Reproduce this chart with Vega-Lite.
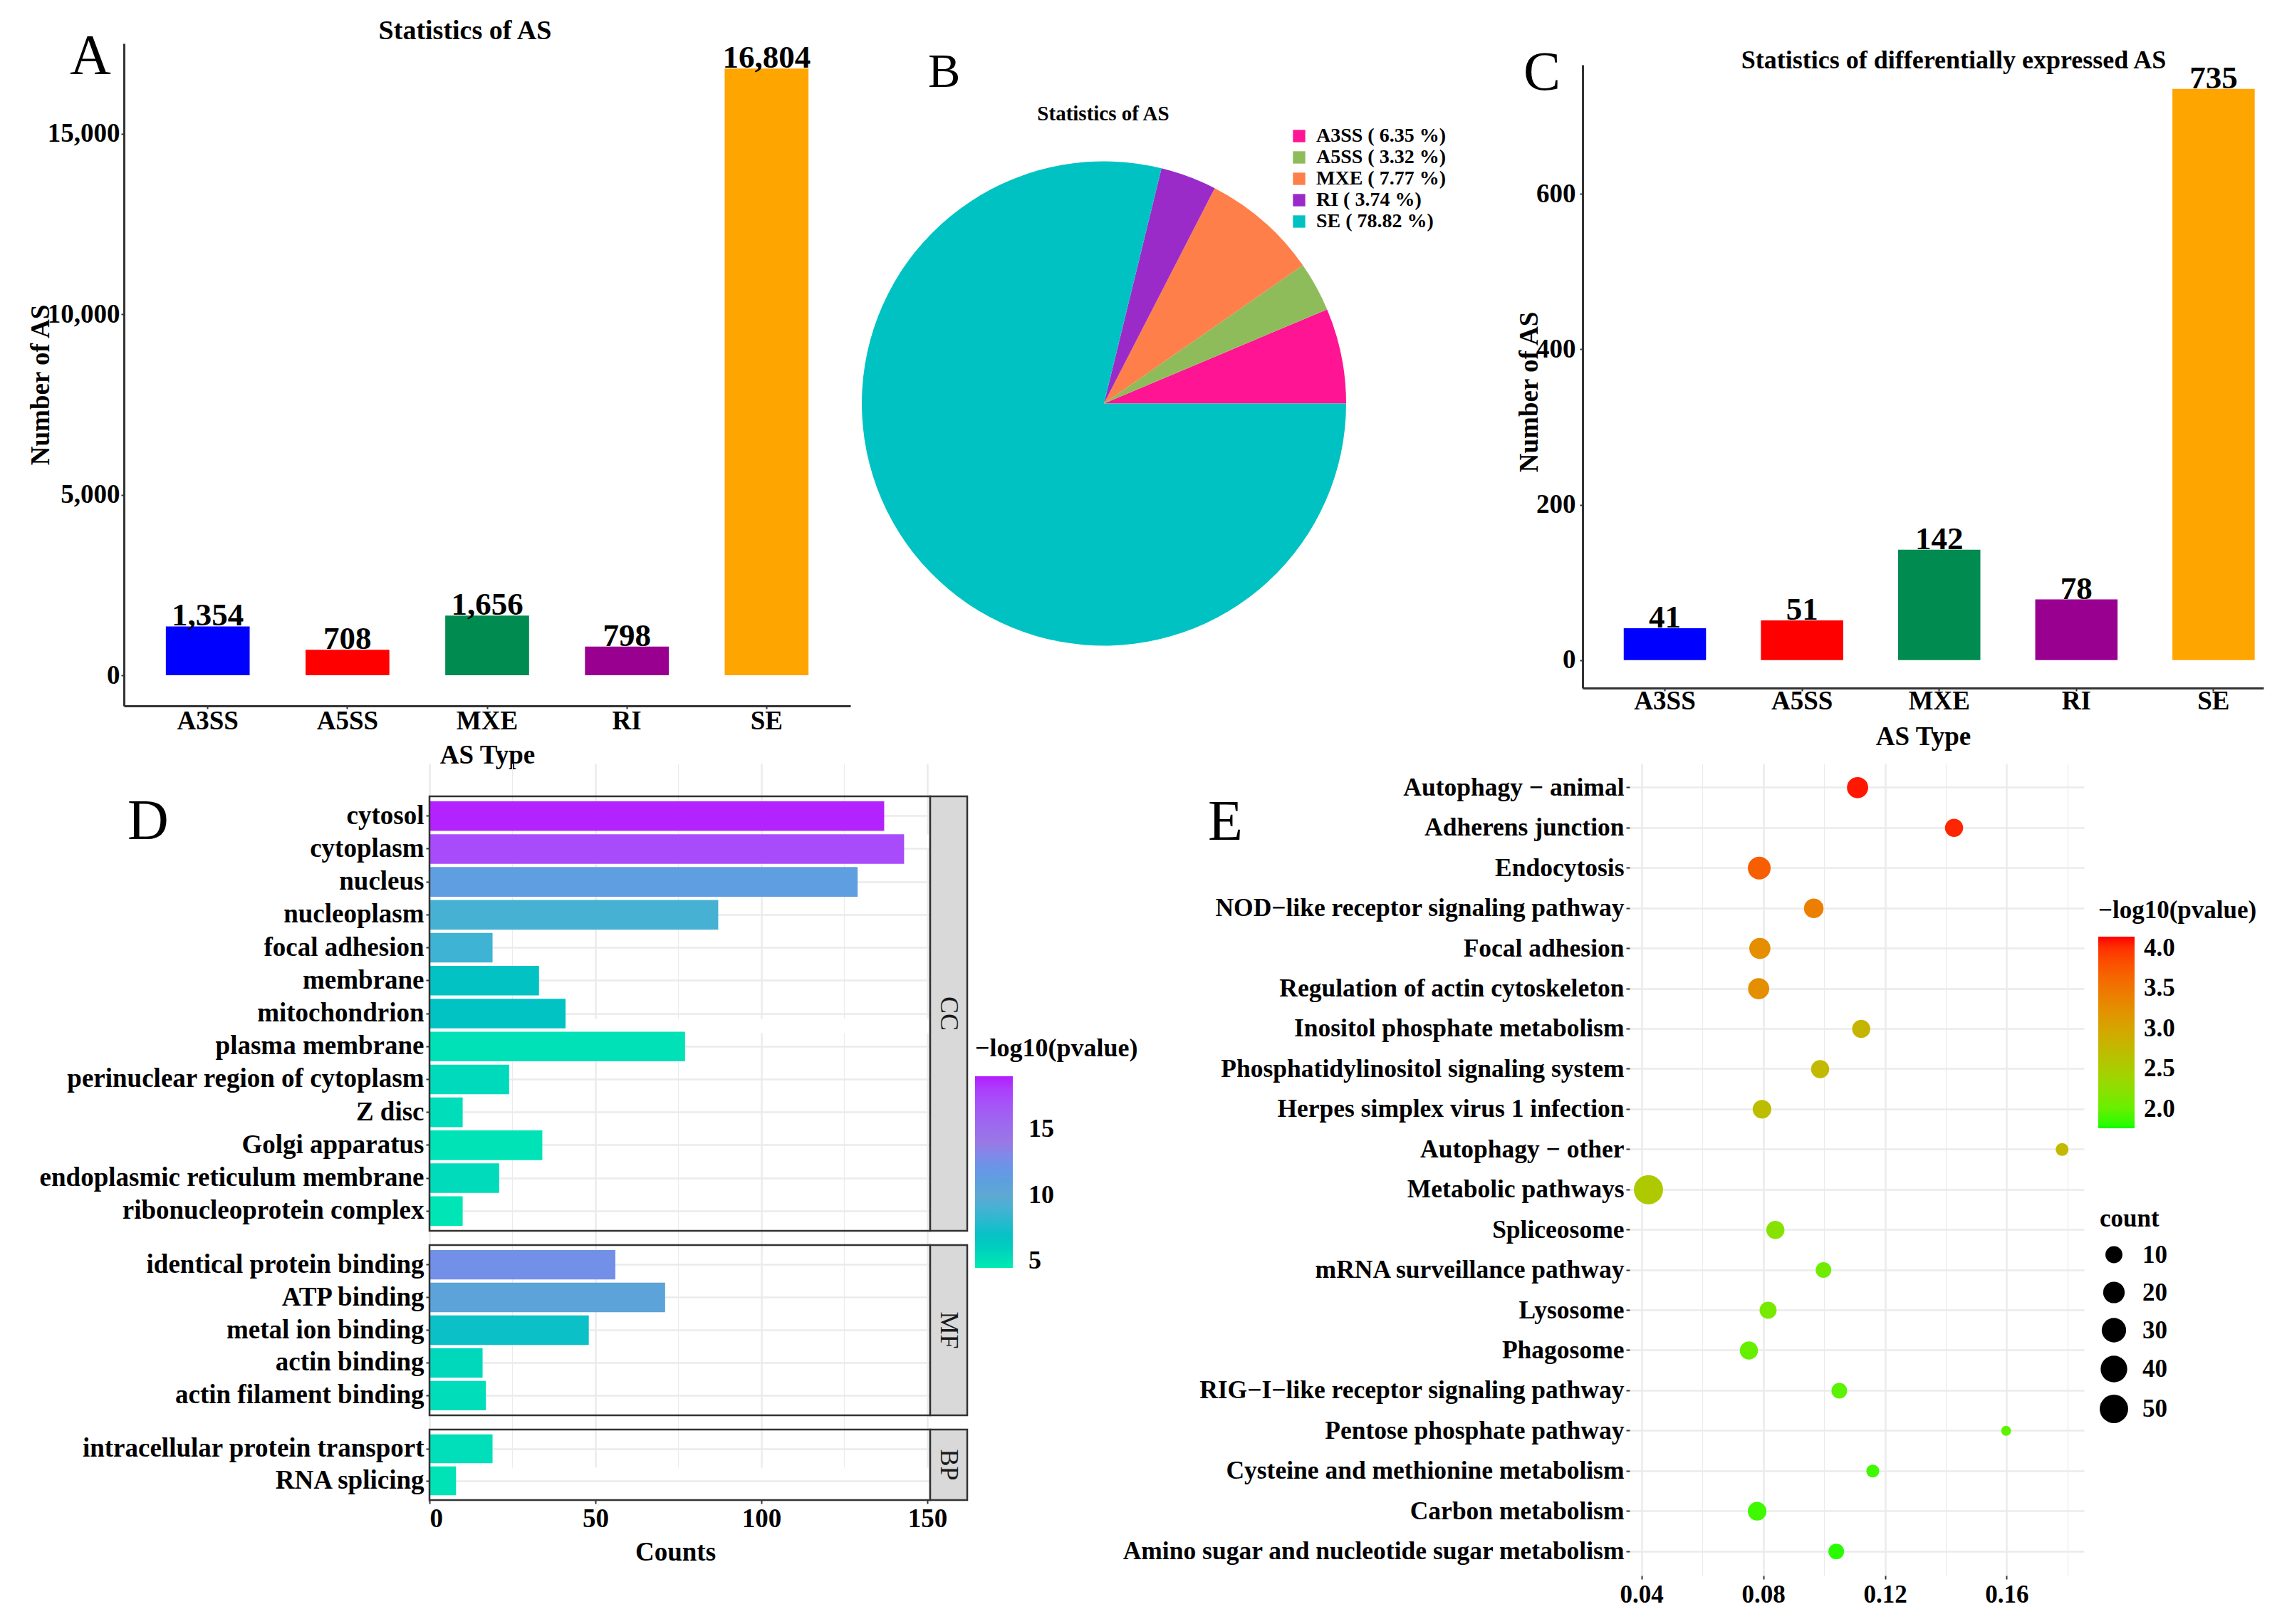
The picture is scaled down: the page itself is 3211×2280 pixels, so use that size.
{
  "$schema": "https://vega.github.io/schema/vega-lite/v6.json",
  "background": "white",
  "padding": {"left": 38, "top": 25, "right": 0, "bottom": 0},
  "columns": 5,
  "bounds": "flush",
  "align": "each",
  "spacing": {"row": 0, "column": 0},
  "resolve": {"scale": {"color": "independent", "size": "independent"}},
  "datasets": {
    "as": [
      {"type": "A3SS", "total": 1354, "de": 41, "share": "A3SS ( 6.35 %)"},
      {"type": "A5SS", "total": 708, "de": 51, "share": "A5SS ( 3.32 %)"},
      {"type": "MXE", "total": 1656, "de": 142, "share": "MXE ( 7.77 %)"},
      {"type": "RI", "total": 798, "de": 78, "share": "RI ( 3.74 %)"},
      {"type": "SE", "total": 16804, "de": 735, "share": "SE ( 78.82 %)"}
    ],
    "go": [
      {"cat": "CC", "term": "cytosol", "count": 137, "logp": 18.9},
      {"cat": "CC", "term": "cytoplasm", "count": 143, "logp": 17.4},
      {"cat": "CC", "term": "nucleus", "count": 129, "logp": 11.2},
      {"cat": "CC", "term": "nucleoplasm", "count": 87, "logp": 9.0},
      {"cat": "CC", "term": "focal adhesion", "count": 19, "logp": 8.7},
      {"cat": "CC", "term": "membrane", "count": 33, "logp": 6.8},
      {"cat": "CC", "term": "mitochondrion", "count": 41, "logp": 6.7},
      {"cat": "CC", "term": "plasma membrane", "count": 77, "logp": 5.0},
      {"cat": "CC", "term": "perinuclear region of cytoplasm", "count": 24, "logp": 5.4},
      {"cat": "CC", "term": "Z disc", "count": 10, "logp": 5.2},
      {"cat": "CC", "term": "Golgi apparatus", "count": 34, "logp": 4.9},
      {"cat": "CC", "term": "endoplasmic reticulum membrane", "count": 21, "logp": 5.3},
      {"cat": "CC", "term": "ribonucleoprotein complex", "count": 10, "logp": 4.8},
      {"cat": "MF", "term": "identical protein binding", "count": 56, "logp": 12.5},
      {"cat": "MF", "term": "ATP binding", "count": 71, "logp": 10.6},
      {"cat": "MF", "term": "metal ion binding", "count": 48, "logp": 7.1},
      {"cat": "MF", "term": "actin binding", "count": 16, "logp": 5.5},
      {"cat": "MF", "term": "actin filament binding", "count": 17, "logp": 5.2},
      {"cat": "BP", "term": "intracellular protein transport", "count": 19, "logp": 5.1},
      {"cat": "BP", "term": "RNA splicing", "count": 8, "logp": 4.9}
    ],
    "panels": [
      {"cat": "CC", "first": "cytosol", "last": "ribonucleoprotein complex", "mid": "mitochondrion"},
      {"cat": "MF", "first": "identical protein binding", "last": "actin filament binding", "mid": "metal ion binding"},
      {"cat": "BP", "first": "intracellular protein transport", "last": "RNA splicing", "mid": "intracellular protein transport"}
    ],
    "kegg": [
      {"pathway": "Autophagy − animal", "ratio": 0.1110, "logp": 4.10, "count": 19},
      {"pathway": "Adherens junction", "ratio": 0.1427, "logp": 4.05, "count": 12},
      {"pathway": "Endocytosis", "ratio": 0.0787, "logp": 3.70, "count": 24},
      {"pathway": "NOD−like receptor signaling pathway", "ratio": 0.0966, "logp": 3.40, "count": 15},
      {"pathway": "Focal adhesion", "ratio": 0.0789, "logp": 3.25, "count": 19},
      {"pathway": "Regulation of actin cytoskeleton", "ratio": 0.0785, "logp": 3.25, "count": 19},
      {"pathway": "Inositol phosphate metabolism", "ratio": 0.1122, "logp": 2.80, "count": 12},
      {"pathway": "Phosphatidylinositol signaling system", "ratio": 0.0987, "logp": 2.75, "count": 12},
      {"pathway": "Herpes simplex virus 1 infection", "ratio": 0.0796, "logp": 2.70, "count": 13},
      {"pathway": "Autophagy − other", "ratio": 0.1782, "logp": 2.75, "count": 5},
      {"pathway": "Metabolic pathways", "ratio": 0.0423, "logp": 2.55, "count": 55},
      {"pathway": "Spliceosome", "ratio": 0.0840, "logp": 2.20, "count": 12},
      {"pathway": "mRNA surveillance pathway", "ratio": 0.0998, "logp": 2.05, "count": 8},
      {"pathway": "Lysosome", "ratio": 0.0816, "logp": 2.10, "count": 10},
      {"pathway": "Phagosome", "ratio": 0.0753, "logp": 2.00, "count": 12},
      {"pathway": "RIG−I−like receptor signaling pathway", "ratio": 0.1050, "logp": 1.95, "count": 8},
      {"pathway": "Pentose phosphate pathway", "ratio": 0.1598, "logp": 1.95, "count": 3},
      {"pathway": "Cysteine and methionine metabolism", "ratio": 0.1160, "logp": 1.85, "count": 5},
      {"pathway": "Carbon metabolism", "ratio": 0.0780, "logp": 1.85, "count": 13},
      {"pathway": "Amino sugar and nucleotide sugar metabolism", "ratio": 0.1040, "logp": 1.80, "count": 8}
    ],
    "kpanel": [
      {"first": "Autophagy − animal", "last": "Amino sugar and nucleotide sugar metabolism"}
    ]
  },
  "concat": [
    {
      "width": 1020,
      "height": 930,
      "data": {"name": "as"},
      "title": {"text": "Statistics of AS", "fontSize": 38, "anchor": "middle", "frame": "group", "offset": 0, "dx": -31, "dy": 4},
      "encoding": {
        "x": {"field": "type", "type": "nominal", "sort": null,
          "scale": {"paddingInner": 0.4, "paddingOuter": 0.3},
          "axis": {"title": "AS Type", "labelAngle": 0, "tickSize": 4, "tickWidth": 2, "labelPadding": -1, "titlePadding": 12, "domainWidth": 3, "domainColor": "#333333"}},
        "y": {"field": "total", "type": "quantitative",
          "scale": {"domain": [-846, 17500], "nice": false, "zero": false},
          "axis": {"title": "Number of AS", "values": [0, 5000, 10000, 15000], "format": ",d", "tickSize": 4, "tickWidth": 2, "labelPadding": 2, "domainWidth": 3, "domainColor": "#333333", "titleX": -106, "titleY": 479, "titleBaseline": "alphabetic"}}
      },
      "layer": [
        {
          "mark": {"type": "bar"},
          "encoding": {
            "y2": {"datum": 0},
            "color": {"field": "type", "type": "nominal",
              "scale": {"domain": ["A3SS", "A5SS", "MXE", "RI", "SE"], "range": ["#0000FF", "#FF0000", "#008B50", "#990090", "#FFA500"]},
              "legend": null}
          }
        },
        {
          "mark": {"type": "text", "baseline": "alphabetic", "dy": -1, "fontSize": 45, "fontWeight": "bold", "color": "#000000"},
          "encoding": {"text": {"field": "total", "type": "quantitative", "format": ","}}
        }
      ]
    },
    {
      "width": 384,
      "height": 1011,
      "data": {"name": "as"},
      "mark": {"type": "arc", "radius": 340},
      "encoding": {
        "theta": {"field": "total", "type": "quantitative", "stack": true, "scale": {"range": [1.5708, -4.7124]}},
        "order": {"field": "type", "sort": "ascending"},
        "color": {"field": "share", "type": "nominal", "sort": null,
          "scale": {"domain": ["A3SS ( 6.35 %)", "A5SS ( 3.32 %)", "MXE ( 7.77 %)", "RI ( 3.74 %)", "SE ( 78.82 %)"], "range": ["#FF1493", "#8FBC5A", "#FF7F4A", "#9A2BC8", "#00C2C2"]},
          "legend": {"title": null, "orient": "none", "legendX": 452, "legendY": 116, "symbolType": "square", "symbolSize": 300, "symbolStrokeWidth": 0, "labelFontSize": 28, "rowPadding": 2, "labelOffset": 10}}
      }
    },
    {
      "width": 480, "height": 10, "data": {"values": []}, "mark": "point", "encoding": {},
      "title": {"text": "A", "fontSize": 80, "fontWeight": "normal", "anchor": "start", "frame": "group", "offset": 0, "dx": -1644, "dy": 60}
    },
    {
      "width": 956,
      "height": 905,
      "data": {"name": "as"},
      "title": {"text": "Statistics of differentially expressed AS", "fontSize": 36, "anchor": "middle", "frame": "group", "offset": 0, "dx": 43, "dy": 43},
      "encoding": {
        "x": {"field": "type", "type": "nominal", "sort": null,
          "scale": {"paddingInner": 0.4, "paddingOuter": 0.182, "align": 0.824},
          "axis": {"title": "AS Type", "labelAngle": 0, "tickSize": 4, "tickWidth": 2, "labelPadding": -4, "titlePadding": 14, "domainWidth": 3, "domainColor": "#333333"}},
        "y": {"field": "de", "type": "quantitative",
          "scale": {"domain": [-36, 766], "nice": false, "zero": false, "range": [905, 30]},
          "axis": {"title": "Number of AS", "values": [0, 200, 400, 600], "format": "d", "tickSize": 4, "tickWidth": 2, "labelPadding": 6, "domainWidth": 3, "domainColor": "#333333", "titleX": -64, "titleY": 489, "titleBaseline": "alphabetic"}}
      },
      "layer": [
        {
          "mark": {"type": "bar"},
          "encoding": {
            "y2": {"datum": 0},
            "color": {"field": "type", "type": "nominal",
              "scale": {"domain": ["A3SS", "A5SS", "MXE", "RI", "SE"], "range": ["#0000FF", "#FF0000", "#008B50", "#990090", "#FFA500"]},
              "legend": null}
          }
        },
        {
          "mark": {"type": "text", "baseline": "alphabetic", "dy": -1, "fontSize": 45, "fontWeight": "bold", "color": "#000000"},
          "encoding": {"text": {"field": "de", "type": "quantitative"}}
        }
      ]
    },
    {
      "width": 1, "height": 10, "data": {"values": []}, "mark": "point", "encoding": {},
      "title": {"text": "B", "fontSize": 68, "fontWeight": "normal", "anchor": "start", "frame": "group", "offset": 0, "dx": -1875, "dy": 75}
    },
    {
      "width": 1184,
      "height": 1034,
      "resolve": {"scale": {"x": "independent", "y": "independent"}, "axis": {"x": "independent", "y": "independent"}},
      "layer": [
        {
          "layer": [
            {
              "data": {"name": "go"},
              "transform": [{"filter": "datum.cat === 'CC'"}],
              "mark": {"type": "bar"},
              "encoding": {
                "y": {"field": "term", "type": "nominal",
                  "scale": {"domain": ["cytosol", "cytoplasm", "nucleus", "nucleoplasm", "focal adhesion", "membrane", "mitochondrion", "plasma membrane", "perinuclear region of cytoplasm", "Z disc", "Golgi apparatus", "endoplasmic reticulum membrane", "ribonucleoprotein complex"], "range": [46, 656], "paddingInner": 0.1, "paddingOuter": 0.15},
                  "axis": {"title": null, "orient": "left", "offset": -429, "labelFontSize": 37, "tickSize": 5, "tickWidth": 2, "tickColor": "#333333", "labelPadding": 3, "domain": false, "grid": true, "gridColor": "#EBEBEB", "gridWidth": 2.5}},
                "x": {"field": "count", "type": "quantitative",
                  "scale": {"domain": [0, 150.86], "range": [429, 1132], "nice": false, "zero": false},
                  "axis": {"title": null, "orient": "bottom", "values": [0, 25, 50, 75, 100, 125, 150], "labels": false, "ticks": false, "domain": false, "grid": true, "gridColor": "#EBEBEB", "gridWidth": {"condition": {"test": "datum.value % 50 === 0", "value": 2.5}, "value": 1.2}}},
                "color": {"field": "logp", "type": "quantitative",
                  "scale": {"domain": [4.46, 6.5, 10, 14, 19.0], "range": ["#00EBB0", "#00C4C0", "#5FA8D3", "#9A78E4", "#B31EFF"]},
                  "legend": {"title": "−log10(pvalue)", "orient": "none", "legendX": 1195, "legendY": 383, "direction": "vertical", "gradientLength": 269, "gradientThickness": 53, "gradientStrokeWidth": 0, "values": [5, 10, 15], "titleFontSize": 36, "labelFontSize": 36, "titlePadding": 20, "labelOffset": 22}}
              }
            },
            {
              "data": {"name": "panels"},
              "transform": [{"filter": "datum.cat === 'CC'"}],
              "mark": {"type": "rect", "fillOpacity": 0, "stroke": "#333333", "strokeWidth": 2.5},
              "encoding": {
                "x": {"datum": 0}, "x2": {"datum": 150.86},
                "y": {"field": "first", "type": "nominal", "bandPosition": -0.1667},
                "y2": {"field": "last", "bandPosition": 1.1667}
              }
            },
            {
              "data": {"name": "panels"},
              "transform": [{"filter": "datum.cat === 'CC'"}],
              "mark": {"type": "rect", "fill": "#D9D9D9", "stroke": "#333333", "strokeWidth": 2.5},
              "encoding": {
                "x": {"datum": 150.86}, "x2": {"datum": 162.02},
                "y": {"field": "first", "type": "nominal", "bandPosition": -0.1667},
                "y2": {"field": "last", "bandPosition": 1.1667}
              }
            },
            {
              "data": {"name": "panels"},
              "transform": [{"filter": "datum.cat === 'CC'"}],
              "mark": {"type": "text", "angle": 90, "fontSize": 36, "color": "#1A1A1A", "font": "Liberation Serif"},
              "encoding": {
                "x": {"datum": 156.44},
                "y": {"field": "mid", "type": "nominal", "bandPosition": 0.5},
                "text": {"field": "cat", "type": "nominal"}
              }
            }
          ]
        },
        {
          "layer": [
            {
              "data": {"name": "go"},
              "transform": [{"filter": "datum.cat === 'MF'"}],
              "mark": {"type": "bar"},
              "encoding": {
                "y": {"field": "term", "type": "nominal",
                  "scale": {"domain": ["identical protein binding", "ATP binding", "metal ion binding", "actin binding", "actin filament binding"], "range": [676, 915], "paddingInner": 0.1, "paddingOuter": 0.15},
                  "axis": {"title": null, "orient": "left", "offset": -429, "labelFontSize": 37, "tickSize": 5, "tickWidth": 2, "tickColor": "#333333", "labelPadding": 3, "domain": false, "grid": true, "gridColor": "#EBEBEB", "gridWidth": 2.5}},
                "x": {"field": "count", "type": "quantitative",
                  "scale": {"domain": [0, 150.86], "range": [429, 1132], "nice": false, "zero": false},
                  "axis": {"title": null, "orient": "bottom", "values": [0, 25, 50, 75, 100, 125, 150], "labels": false, "ticks": false, "domain": false, "grid": true, "gridColor": "#EBEBEB", "gridWidth": {"condition": {"test": "datum.value % 50 === 0", "value": 2.5}, "value": 1.2}}},
                "color": {"field": "logp", "type": "quantitative",
                  "scale": {"domain": [4.46, 6.5, 10, 14, 19.0], "range": ["#00EBB0", "#00C4C0", "#5FA8D3", "#9A78E4", "#B31EFF"]},
                  "legend": {"title": "−log10(pvalue)", "orient": "none", "legendX": 1195, "legendY": 383, "direction": "vertical", "gradientLength": 269, "gradientThickness": 53, "gradientStrokeWidth": 0, "values": [5, 10, 15], "titleFontSize": 36, "labelFontSize": 36, "titlePadding": 20, "labelOffset": 22}}
              }
            },
            {
              "data": {"name": "panels"},
              "transform": [{"filter": "datum.cat === 'MF'"}],
              "mark": {"type": "rect", "fillOpacity": 0, "stroke": "#333333", "strokeWidth": 2.5},
              "encoding": {
                "x": {"datum": 0}, "x2": {"datum": 150.86},
                "y": {"field": "first", "type": "nominal", "bandPosition": -0.1667},
                "y2": {"field": "last", "bandPosition": 1.1667}
              }
            },
            {
              "data": {"name": "panels"},
              "transform": [{"filter": "datum.cat === 'MF'"}],
              "mark": {"type": "rect", "fill": "#D9D9D9", "stroke": "#333333", "strokeWidth": 2.5},
              "encoding": {
                "x": {"datum": 150.86}, "x2": {"datum": 162.02},
                "y": {"field": "first", "type": "nominal", "bandPosition": -0.1667},
                "y2": {"field": "last", "bandPosition": 1.1667}
              }
            },
            {
              "data": {"name": "panels"},
              "transform": [{"filter": "datum.cat === 'MF'"}],
              "mark": {"type": "text", "angle": 90, "fontSize": 36, "color": "#1A1A1A", "font": "Liberation Serif"},
              "encoding": {
                "x": {"datum": 156.44},
                "y": {"field": "mid", "type": "nominal", "bandPosition": 0.5},
                "text": {"field": "cat", "type": "nominal"}
              }
            }
          ]
        },
        {
          "layer": [
            {
              "data": {"name": "go"},
              "transform": [{"filter": "datum.cat === 'BP'"}],
              "mark": {"type": "bar"},
              "encoding": {
                "y": {"field": "term", "type": "nominal",
                  "scale": {"domain": ["intracellular protein transport", "RNA splicing"], "range": [935, 1034], "paddingInner": 0.1, "paddingOuter": 0.15},
                  "axis": {"title": null, "orient": "left", "offset": -429, "labelFontSize": 37, "tickSize": 5, "tickWidth": 2, "tickColor": "#333333", "labelPadding": 3, "domain": false, "grid": true, "gridColor": "#EBEBEB", "gridWidth": 2.5}},
                "x": {"field": "count", "type": "quantitative",
                  "scale": {"domain": [0, 150.86], "range": [429, 1132], "nice": false, "zero": false},
                  "axis": {"title": "Counts", "orient": "bottom", "titlePadding": 11, "titleX": 774, "values": [0, 25, 50, 75, 100, 125, 150], "labelExpr": "datum.value % 50 === 0 ? datum.label : ''", "labelFontSize": 37, "labelPadding": 3, "tickSize": 5, "tickWidth": 2, "tickColor": {"condition": {"test": "datum.value % 50 === 0", "value": "#333333"}, "value": "transparent"}, "domain": false, "grid": true, "gridColor": "#EBEBEB", "gridWidth": {"condition": {"test": "datum.value % 50 === 0", "value": 2.5}, "value": 1.2}}},
                "color": {"field": "logp", "type": "quantitative",
                  "scale": {"domain": [4.46, 6.5, 10, 14, 19.0], "range": ["#00EBB0", "#00C4C0", "#5FA8D3", "#9A78E4", "#B31EFF"]},
                  "legend": {"title": "−log10(pvalue)", "orient": "none", "legendX": 1195, "legendY": 383, "direction": "vertical", "gradientLength": 269, "gradientThickness": 53, "gradientStrokeWidth": 0, "values": [5, 10, 15], "titleFontSize": 36, "labelFontSize": 36, "titlePadding": 20, "labelOffset": 22}}
              }
            },
            {
              "data": {"name": "panels"},
              "transform": [{"filter": "datum.cat === 'BP'"}],
              "mark": {"type": "rect", "fillOpacity": 0, "stroke": "#333333", "strokeWidth": 2.5},
              "encoding": {
                "x": {"datum": 0}, "x2": {"datum": 150.86},
                "y": {"field": "first", "type": "nominal", "bandPosition": -0.1667},
                "y2": {"field": "last", "bandPosition": 1.1667}
              }
            },
            {
              "data": {"name": "panels"},
              "transform": [{"filter": "datum.cat === 'BP'"}],
              "mark": {"type": "rect", "fill": "#D9D9D9", "stroke": "#333333", "strokeWidth": 2.5},
              "encoding": {
                "x": {"datum": 150.86}, "x2": {"datum": 162.02},
                "y": {"field": "first", "type": "nominal", "bandPosition": -0.1667},
                "y2": {"field": "last", "bandPosition": 1.1667}
              }
            },
            {
              "data": {"name": "panels"},
              "transform": [{"filter": "datum.cat === 'BP'"}],
              "mark": {"type": "text", "angle": 90, "fontSize": 36, "color": "#1A1A1A", "font": "Liberation Serif"},
              "encoding": {
                "x": {"datum": 156.44},
                "y": {"field": "mid", "type": "nominal", "bandPosition": 1.0556},
                "text": {"field": "cat", "type": "nominal"}
              }
            }
          ]
        }
      ]
    },
    {
      "width": 10, "height": 10, "data": {"values": []}, "mark": "point", "encoding": {},
      "title": {"text": "Statistics of AS", "fontSize": 29, "anchor": "start", "align": "center", "frame": "group", "offset": 0, "dx": 191, "dy": -897}
    },
    {
      "width": 10, "height": 10, "data": {"values": []}, "mark": "point", "encoding": {},
      "title": {"text": "C", "fontSize": 78, "fontWeight": "normal", "anchor": "start", "frame": "group", "offset": 0, "dx": 397, "dy": -930}
    },
    {
      "width": 704,
      "height": 1140,
      "title": {"text": "E", "fontSize": 80, "fontWeight": "normal", "anchor": "start", "frame": "group", "offset": 0, "dx": -526, "dy": 124},
      "encoding": {
        "y": {"field": "pathway", "type": "nominal",
          "scale": {"domain": ["Autophagy − animal", "Adherens junction", "Endocytosis", "NOD−like receptor signaling pathway", "Focal adhesion", "Regulation of actin cytoskeleton", "Inositol phosphate metabolism", "Phosphatidylinositol signaling system", "Herpes simplex virus 1 infection", "Autophagy − other", "Metabolic pathways", "Spliceosome", "mRNA surveillance pathway", "Lysosome", "Phagosome", "RIG−I−like receptor signaling pathway", "Pentose phosphate pathway", "Cysteine and methionine metabolism", "Carbon metabolism", "Amino sugar and nucleotide sugar metabolism"], "type": "band", "paddingInner": 0, "paddingOuter": 0.1},
          "axis": {"title": null, "orient": "left", "offset": -66, "labelFontSize": 35.5, "tickSize": 5, "tickWidth": 2, "tickColor": "#333333", "labelPadding": 3, "domain": false, "grid": true, "gridColor": "#EBEBEB", "gridWidth": 2.5}},
        "x": {"field": "ratio", "type": "quantitative",
          "scale": {"domain": [0.0361, 0.1854], "range": [66, 704], "nice": false, "zero": false},
          "axis": {"title": null, "orient": "bottom", "values": [0.04, 0.06, 0.08, 0.10, 0.12, 0.14, 0.16, 0.18], "labelExpr": "round(datum.value*100) % 4 === 0 ? format(datum.value, '.2f') : ''", "labelFontSize": 35, "labelPadding": 4, "tickSize": 5, "tickWidth": 2, "tickColor": {"condition": {"test": "round(datum.value*100) % 4 === 0", "value": "#333333"}, "value": "transparent"}, "domain": false, "grid": true, "gridColor": "#EBEBEB", "gridWidth": {"condition": {"test": "round(datum.value*100) % 4 === 0", "value": 2.5}, "value": 1.2}}}
      },
      "layer": [
        {
          "data": {"name": "kegg"},
          "mark": {"type": "circle", "opacity": 1},
          "encoding": {
            "color": {"field": "logp", "type": "quantitative",
              "scale": {"domain": [1.76, 4.14], "range": ["#00FF00", "#FF0000"], "interpolate": "hcl"},
              "legend": {"title": "−log10(pvalue)", "orient": "none", "legendX": 724, "legendY": 189, "direction": "vertical", "gradientLength": 269, "gradientThickness": 51, "gradientStrokeWidth": 0, "values": [2, 2.5, 3, 3.5, 4], "format": ".1f", "titleFontSize": 35, "labelFontSize": 35, "titlePadding": 19, "labelOffset": 13}},
            "size": {"field": "count", "type": "quantitative",
              "scale": {"type": "sqrt", "domain": [3, 55], "range": [196, 1681]},
              "legend": {"title": "count", "orient": "none", "legendX": 726, "legendY": 622, "values": [10, 20, 30, 40, 50], "symbolType": "circle", "symbolFillColor": "#000000", "symbolStrokeColor": "#000000", "symbolStrokeWidth": 0, "symbolOpacity": 1, "titleFontSize": 35, "labelFontSize": 35, "titlePadding": 15, "rowPadding": 17, "labelOffset": 20}}
          }
        },
        {
          "data": {"name": "kpanel"},
          "mark": {"type": "rect", "fillOpacity": 0, "stroke": "#7F7F7F", "strokeWidth": 2.5},
          "encoding": {
            "x": {"datum": 0.0361}, "x2": {"datum": 0.1854},
            "y": {"field": "first", "type": "nominal", "bandPosition": -0.1},
            "y2": {"field": "last", "bandPosition": 1.1}
          }
        }
      ]
    },
    {
      "width": 1, "height": 10, "data": {"values": []}, "mark": "point", "encoding": {},
      "title": {"text": "D", "fontSize": 80, "fontWeight": "normal", "anchor": "start", "frame": "group", "offset": 0, "dx": -2999, "dy": 123}
    }
  ],
  "config": {
    "font": "Liberation Serif",
    "view": {"stroke": null},
    "axis": {"labelFont": "Liberation Serif", "titleFont": "Liberation Serif", "labelFontWeight": "bold", "titleFontWeight": "bold", "labelColor": "#000000", "titleColor": "#000000", "grid": false, "domainColor": "#000000", "tickColor": "#333333", "labelFontSize": 37, "titleFontSize": 37, "labelLimit": 1000, "titleLimit": 2000},
    "legend": {"labelFont": "Liberation Serif", "titleFont": "Liberation Serif", "labelFontWeight": "bold", "titleFontWeight": "bold", "labelColor": "#000000", "titleColor": "#000000", "labelLimit": 1000, "titleLimit": 1000},
    "title": {"font": "Liberation Serif", "fontWeight": "bold", "color": "#000000", "limit": 2000},
    "text": {"font": "Liberation Serif"}
  }
}
